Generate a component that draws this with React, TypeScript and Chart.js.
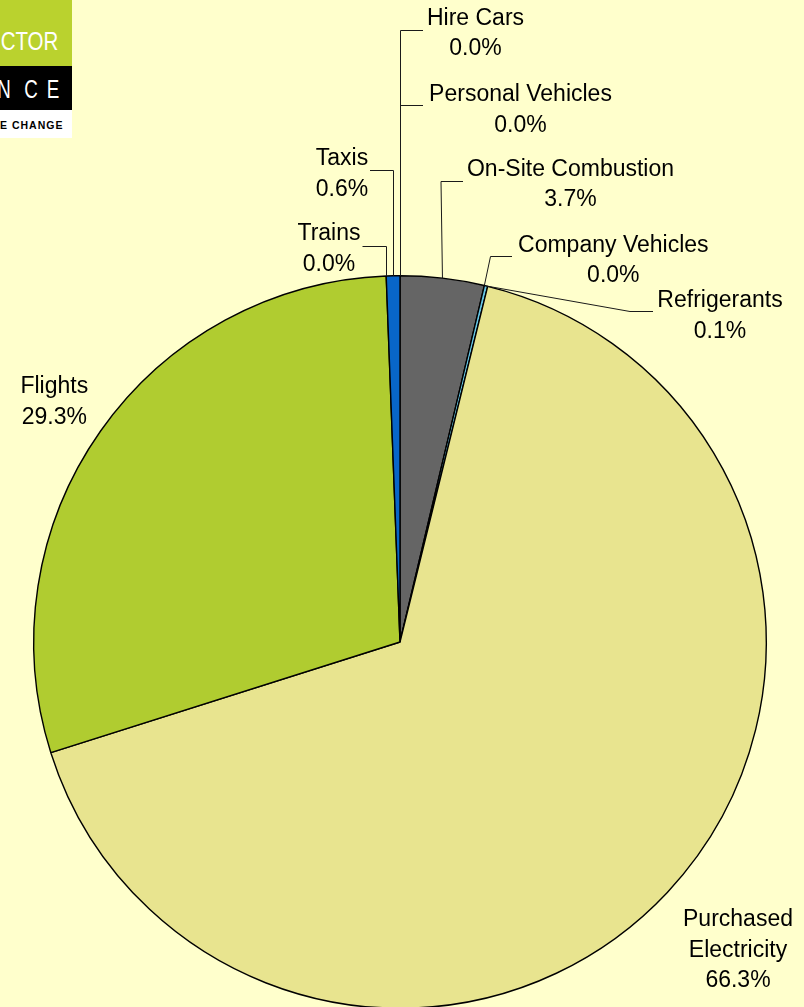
import React, { useEffect, useRef } from "react";
import { Chart, registerables } from "chart.js";

Chart.register(...registerables);

// ---- data ----
const categories = [
  "On-Site Combustion",
  "Company Vehicles",
  "Refrigerants",
  "Purchased Electricity",
  "Flights",
  "Trains",
  "Taxis",
  "Personal Vehicles",
  "Hire Cars",
];
const values = [3.7, 0.0, 0.149, 66.3, 29.3, 0.0, 0.6, 0.0, 0.0];
const sliceColors = [
  "#656565",
  "#8080FF",
  "#66C6E4",
  "#E8E48F",
  "#B0CC30",
  "#993366",
  "#0866C8",
  "#FF8080",
  "#CCFFCC",
];

// ---- label layout (canvas coordinates) ----
type Layout = {
  x: number;
  y: number;
  split?: boolean;
  elbow?: [number, number];
  elbowY?: number;
  endX?: number;
};
const labelLayout: Layout[] = [
  { x: 570.5, y: 175.5, elbow: [441, 181.5], endX: 463 },
  { x: 613.3, y: 251.7, elbow: [490.5, 256.5], endX: 512 },
  { x: 720, y: 307.3, elbow: [630, 311.5], endX: 653 },
  { x: 738, y: 926, split: true },
  { x: 54.3, y: 393 },
  { x: 329, y: 240, elbowY: 246.5, endX: 362.5 },
  { x: 342, y: 165, elbowY: 170.5, endX: 370 },
  { x: 520.5, y: 101, elbowY: 105.5, endX: 423 },
  { x: 475.5, y: 24.5, elbowY: 30.5, endX: 423 },
];
const LINE_GAP = 30.5;
const LABEL_FONT = "23px 'Liberation Sans', Arial, Helvetica, sans-serif";

const labelPlugin = {
  id: "pieLabels",
  afterDatasetsDraw(chart: any) {
    const ctx: CanvasRenderingContext2D = chart.ctx;
    const meta = chart.getDatasetMeta(0);
    const data = chart.data.datasets[0].data as number[];
    const total = data.reduce((a, b) => a + b, 0);
    ctx.save();
    meta.data.forEach((arc: any, i: number) => {
      const L = labelLayout[i];
      if (!L) return;
      const p = arc.getProps(["x", "y", "startAngle", "endAngle", "outerRadius"], true);
      const mid = (p.startAngle + p.endAngle) / 2;
      const sx = p.x + Math.cos(mid) * p.outerRadius;
      const sy = p.y + Math.sin(mid) * p.outerRadius;
      if (L.elbow || L.elbowY !== undefined) {
        const ex = L.elbow ? L.elbow[0] : Math.round(sx) + 0.5;
        const ey = L.elbow ? L.elbow[1] : (L.elbowY as number);
        const startX = L.elbow ? sx : ex;
        ctx.beginPath();
        ctx.strokeStyle = "#1a1a1a";
        ctx.lineWidth = 1;
        ctx.moveTo(startX, sy);
        ctx.lineTo(ex, ey);
        ctx.lineTo(L.endX as number, ey);
        ctx.stroke();
      }
      const pct = ((data[i] / total) * 100).toFixed(1) + "%";
      const lines = L.split ? [...categories[i].split(" "), pct] : [categories[i], pct];
      ctx.fillStyle = "#000";
      ctx.font = LABEL_FONT;
      ctx.textAlign = "center";
      ctx.textBaseline = "alphabetic";
      lines.forEach((t, k) => ctx.fillText(t, L.x, L.y + k * LINE_GAP));
    });
    ctx.restore();
  },
};

const logoFont = "'Liberation Sans', Arial, sans-serif";

export default function App() {
  const ref = useRef<HTMLCanvasElement | null>(null);

  useEffect(() => {
    if (!ref.current) return;
    const chart = new Chart(ref.current, {
      type: "pie",
      data: {
        labels: categories,
        datasets: [
          {
            data: values,
            backgroundColor: sliceColors,
            borderColor: "#000",
            borderWidth: 1.4,
            hoverOffset: 0,
          },
        ],
      },
      options: {
        responsive: false,
        animation: false,
        events: [],
        layout: { padding: { left: 33, right: 37, top: 275, bottom: 21 } },
        plugins: {
          legend: { display: false },
          tooltip: { enabled: false },
        },
      },
      plugins: [labelPlugin],
    });
    return () => chart.destroy();
  }, []);

  return (
    <div
      style={{
        position: "fixed",
        left: 0,
        top: 0,
        width: 804,
        height: 1007,
        overflow: "hidden",
        background: "#FFFFCC",
      }}
    >
      <canvas
        ref={ref}
        width={804}
        height={1030}
        style={{ position: "absolute", left: 0, top: 0, width: 804, height: 1030 }}
      />
      {/* logo fragment */}
      <div
        style={{
          position: "absolute",
          left: 0,
          top: 0,
          width: 72,
          height: 66,
          background: "#BAD22E",
          overflow: "hidden",
        }}
      >
        <div
          style={{
            position: "absolute",
            right: 14,
            top: 28.8,
            color: "#fff",
            font: `25px ${logoFont}`,
            lineHeight: "25px",
            whiteSpace: "nowrap",
            transform: "scaleX(0.82)",
            transformOrigin: "right center",
          }}
        >
          CTOR
        </div>
      </div>
      <div
        style={{
          position: "absolute",
          left: 0,
          top: 66,
          width: 72,
          height: 44,
          background: "#000",
          overflow: "hidden",
        }}
      >
        {[
          ["N", 3.5],
          ["C", 31],
          ["E", 52.5],
        ].map(([ch, cx]) => (
          <div
            key={ch as string}
            style={{
              position: "absolute",
              left: (cx as number) - 10,
              width: 20,
              top: 11.1,
              textAlign: "center",
              color: "#fff",
              font: `25px ${logoFont}`,
              lineHeight: "25px",
              transform: "scaleX(0.75)",
            }}
          >
            {ch}
          </div>
        ))}
      </div>
      <div
        style={{
          position: "absolute",
          left: 0,
          top: 110,
          width: 72,
          height: 28,
          background: "#fff",
          overflow: "hidden",
        }}
      >
        <div
          style={{
            position: "absolute",
            left: 0,
            top: 10.4,
            color: "#000",
            font: `bold 10.5px ${logoFont}`,
            lineHeight: "10.5px",
            letterSpacing: 1,
            whiteSpace: "nowrap",
          }}
        >
          E CHANGE
        </div>
      </div>
    </div>
  );
}
